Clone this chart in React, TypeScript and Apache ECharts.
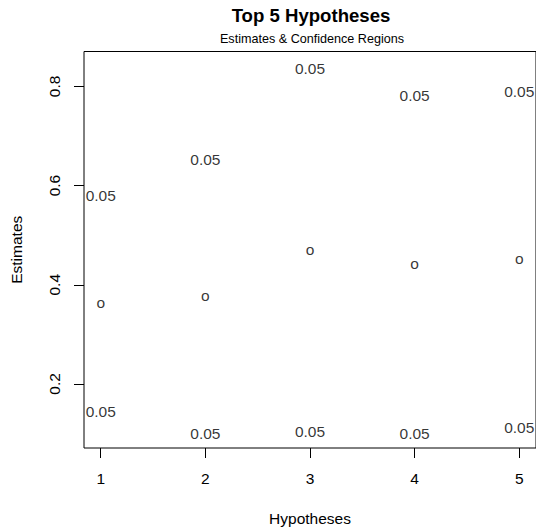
import React, { useEffect, useRef } from "react";
import * as echarts from "echarts";

const hypotheses = [1, 2, 3, 4, 5];
const estimates = [0.365, 0.379, 0.472, 0.442, 0.452];
const upperBounds = [0.58, 0.652, 0.837, 0.781, 0.79];
const lowerBounds = [0.145, 0.101, 0.105, 0.1, 0.113];
const boundLabels = ["0.05", "0.05", "0.05", "0.05", "0.05"];
const xTicks = [1, 2, 3, 4, 5];
const yTicks = [0.2, 0.4, 0.6, 0.8];

const FONT = "'Liberation Sans', Arial, Helvetica, sans-serif";
const BASE = 15.5;

export default function App() {
  const ref = useRef<HTMLDivElement>(null);
  useEffect(() => {
    if (!ref.current) return;
    const chart = echarts.init(ref.current, undefined, { renderer: "svg" });
    const textSeries = (ys: number[], labels: string[]) => ({
      type: "scatter",
      symbolSize: 1,
      itemStyle: { color: "rgba(0,0,0,0)" },
      data: hypotheses.map((h, i) => [h, ys[i], labels[i]]),
      label: {
        show: true,
        position: "inside",
        formatter: (p: any) => p.data[2],
        color: "#000",
        textBorderWidth: 0,
        textBorderColor: "transparent",
        fontFamily: FONT,
        fontSize: BASE,
      },
      emphasis: { disabled: true },
      silent: true,
    });
    chart.setOption({
      animation: false,
      backgroundColor: "#fff",
      textStyle: { fontFamily: FONT },
      graphic: [
        {
          type: "text",
          x: 311,
          y: 15,
          style: {
            text: "Top 5 Hypotheses",
            font: `bold 18.6px ${FONT}`,
            fill: "#000",
            textAlign: "center",
            textVerticalAlign: "middle",
          },
        },
        {
          type: "text",
          x: 312,
          y: 38.5,
          style: {
            text: "Estimates & Confidence Regions",
            font: `12.6px ${FONT}`,
            fill: "#000",
            textAlign: "center",
            textVerticalAlign: "middle",
          },
        },
      ],
      grid: {
        left: 82,
        top: 51.5,
        bottom: 79.7,
        right: -2.5,
        show: true,
        borderColor: "#000",
        borderWidth: 1,
        backgroundColor: "transparent",
        containLabel: false,
      },
      xAxis: {
        type: "value",
        min: 0.84,
        max: 5.16,
        name: "Hypotheses",
        nameLocation: "middle",
        nameGap: 62,
        nameTextStyle: { color: "#000", fontSize: BASE, fontFamily: FONT },
        axisLine: { show: false },
        splitLine: { show: false },
        axisTick: {
          show: true,
          length: 10,
          inside: false,
          customValues: xTicks,
          lineStyle: { color: "#000", width: 1 },
        },
        axisLabel: {
          show: true,
          customValues: xTicks,
          margin: 22,
          color: "#000",
          fontSize: BASE,
          fontFamily: FONT,
        },
      },
      yAxis: {
        type: "value",
        min: 0.0708,
        max: 0.8704,
        name: "Estimates",
        nameLocation: "middle",
        nameGap: 60,
        nameRotate: 90,
        nameTextStyle: { color: "#000", fontSize: BASE, fontFamily: FONT },
        axisLine: { show: false },
        splitLine: { show: false },
        axisTick: {
          show: true,
          length: 10,
          inside: false,
          customValues: yTicks,
          lineStyle: { color: "#000", width: 1 },
        },
        axisLabel: {
          show: true,
          customValues: yTicks,
          rotate: 90,
          margin: 22,
          color: "#000",
          fontSize: BASE,
          fontFamily: FONT,
          formatter: (v: number) => v.toFixed(1),
        },
      },
      series: [
        textSeries(estimates, estimates.map(() => "o")),
        textSeries(upperBounds, boundLabels),
        textSeries(lowerBounds, boundLabels),
      ],
    });
    return () => chart.dispose();
  }, []);
  return (
    <div
      ref={ref}
      style={{ position: "fixed", left: 0, top: 0, width: 536, height: 531 }}
    />
  );
}
